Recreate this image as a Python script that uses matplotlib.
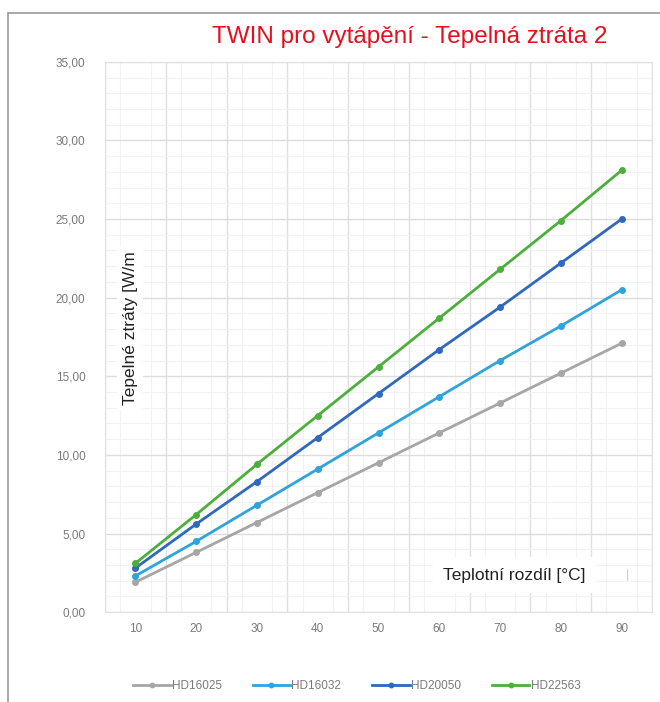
import numpy as np
import matplotlib.pyplot as plt
from matplotlib.patches import Rectangle
from matplotlib.ticker import MultipleLocator, FuncFormatter

# data
teploty = [10, 20, 30, 40, 50, 60, 70, 80, 90]
hd16025 = [1.9, 3.8, 5.7, 7.6, 9.5, 11.4, 13.3, 15.2, 17.1]
hd16032 = [2.3, 4.5, 6.8, 9.1, 11.4, 13.7, 16.0, 18.2, 20.5]
hd20050 = [2.8, 5.6, 8.3, 11.1, 13.9, 16.7, 19.4, 22.2, 25.0]
hd22563 = [3.1, 6.2, 9.4, 12.5, 15.6, 18.7, 21.8, 24.9, 28.1]

series = [('HD16025', hd16025, '#a6a6a6'),
          ('HD16032', hd16032, '#2ea3dc'),
          ('HD20050', hd20050, '#2f68bd'),
          ('HD22563', hd22563, '#4caf3c')]

plt.rcParams['font.family'] = ['Liberation Sans', 'DejaVu Sans']

fig = plt.figure(figsize=(6.6, 7.02), dpi=100)
ax = fig.add_axes([0.159, 0.128, 0.829, 0.784])

# outer frame of the chart
fig.patches.append(Rectangle((0.012, -0.05), 1.1, 1.031, transform=fig.transFigure,
                             fill=False, edgecolor='#9a9a9a', linewidth=1.2))

x_pos = np.arange(len(teploty))
for name, vals, col in series:
    ax.plot(x_pos, vals, color=col, linewidth=2, marker='o', markersize=4, label=name)

ax.set_xlim(-0.5, len(teploty) - 0.5)
ax.set_ylim(0, 35)
ax.set_xticks(x_pos)
ax.set_xticklabels([str(t) for t in teploty])
ax.yaxis.set_major_locator(MultipleLocator(5))
ax.yaxis.set_minor_locator(MultipleLocator(1))
ax.yaxis.set_major_formatter(FuncFormatter(lambda v, p: f'{v:.2f}'.replace('.', ',')))
ax.set_xticks(np.concatenate([x_pos, x_pos + 0.25, x_pos - 0.25]), minor=True)

# gridlines: major at category boundaries, faint minor
for b in np.arange(-0.5, len(teploty), 1.0):
    ax.axvline(b, color='#e0e0e0', linewidth=1, zorder=0)
ax.grid(axis='y', which='major', color='#dddddd', linewidth=1, zorder=0)
ax.grid(which='minor', color='#f2f2f2', linewidth=0.8, zorder=0)
ax.set_axisbelow(True)

ax.tick_params(which='both', length=0)
ax.tick_params(axis='both', labelsize=8.5, labelcolor='#7a7a7a')
ax.tick_params(axis='x', pad=8)
ax.tick_params(axis='y', pad=14)
for s in ax.spines.values():
    s.set_color('#e0e0e0')

fig.text(0.62, 0.948, 'TWIN pro vytápění - Tepelná ztráta 2', color='#e3101d',
         fontsize=17.5, ha='center', va='center')

ax.text(0.046, 0.516, 'Tepelné ztráty [W/m', transform=ax.transAxes, rotation=90,
        fontsize=12.5, color='#222222', ha='center', va='center',
        bbox=dict(facecolor='white', edgecolor='none', pad=4))
ax.text(0.748, 0.067, 'Teplotní rozdíl [°C]', transform=ax.transAxes,
        fontsize=12.5, color='#222222', ha='center', va='center',
        bbox=dict(facecolor='white', edgecolor='none', boxstyle='square,pad=0.6'))
ax.text(0.955, 0.067, '|', transform=ax.transAxes, fontsize=9, color='#cccccc',
        ha='center', va='center')

ax.legend(loc='center', bbox_to_anchor=(0.46, -0.135), ncol=4, frameon=False,
          fontsize=8.5, labelcolor='#7a7a7a', handlelength=3.2, handletextpad=0.1,
          columnspacing=2.6, markerscale=0.8)

plt.savefig('out.png', dpi=100)
